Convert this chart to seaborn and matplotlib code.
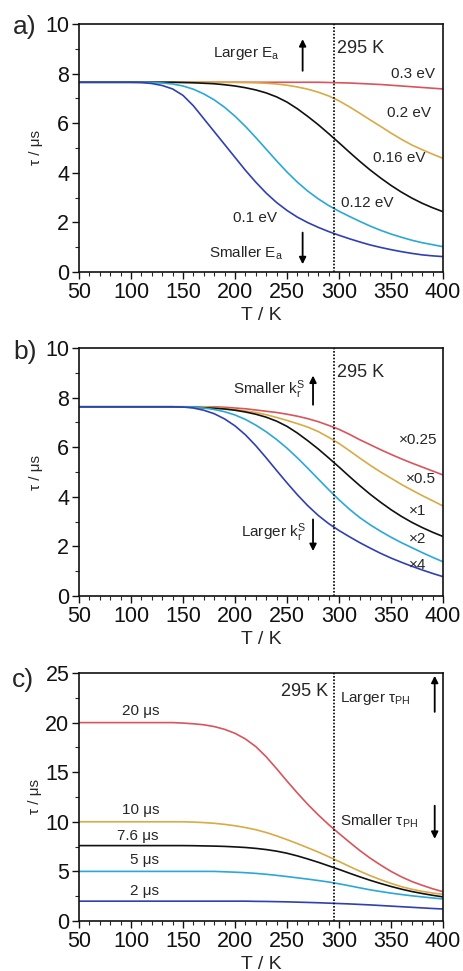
import matplotlib
matplotlib.use("Agg")
import matplotlib.pyplot as plt
import pandas as pd
import seaborn as sns
from matplotlib.ticker import MultipleLocator

# temperature grid (K) shared by all curves
T = [50, 100, 110, 120, 130, 140, 150, 160, 170, 180, 190, 200, 210, 220, 230, 240,
     250, 260, 270, 280, 290, 300, 310, 320, 330, 340, 350, 360, 370, 380, 390, 400]

# a) activation energy
ea_030 = [7.65, 7.65, 7.65, 7.65, 7.65, 7.65, 7.65, 7.65, 7.65, 7.65, 7.65, 7.65, 7.65, 7.65, 7.65, 7.65,
          7.65, 7.65, 7.65, 7.65, 7.64, 7.63, 7.62, 7.60, 7.58, 7.56, 7.53, 7.50, 7.47, 7.44, 7.41, 7.38]
ea_020 = [7.65, 7.65, 7.65, 7.65, 7.65, 7.65, 7.65, 7.65, 7.65, 7.65, 7.65, 7.65, 7.64, 7.63, 7.61, 7.58,
          7.53, 7.46, 7.37, 7.25, 7.10, 6.90, 6.66, 6.40, 6.13, 5.87, 5.60, 5.35, 5.12, 4.93, 4.75, 4.58]
ea_016 = [7.65, 7.65, 7.65, 7.65, 7.65, 7.65, 7.64, 7.63, 7.61, 7.59, 7.55, 7.50, 7.43, 7.34, 7.22, 7.06,
          6.85, 6.58, 6.27, 5.94, 5.58, 5.21, 4.83, 4.46, 4.11, 3.79, 3.49, 3.22, 2.98, 2.77, 2.59, 2.43]
ea_012 = [7.65, 7.65, 7.65, 7.64, 7.62, 7.58, 7.50, 7.37, 7.18, 6.94, 6.64, 6.28, 5.87, 5.42, 4.95, 4.48,
          4.03, 3.62, 3.26, 2.95, 2.68, 2.45, 2.24, 2.04, 1.85, 1.68, 1.53, 1.40, 1.28, 1.18, 1.10, 1.02]
ea_010 = [7.65, 7.65, 7.64, 7.60, 7.52, 7.38, 7.12, 6.70, 6.18, 5.66, 5.14, 4.62, 4.10, 3.62, 3.18, 2.80,
          2.48, 2.21, 1.99, 1.80, 1.63, 1.48, 1.34, 1.21, 1.09, 0.99, 0.90, 0.82, 0.75, 0.69, 0.65, 0.62]
ea_names = ["0.3 eV", "0.2 eV", "0.16 eV", "0.12 eV", "0.1 eV"]

# b) singlet radiative rate
kr_x025 = [7.63, 7.63, 7.63, 7.63, 7.63, 7.63, 7.63, 7.63, 7.63, 7.63, 7.61, 7.58, 7.55, 7.50, 7.45, 7.40,
           7.33, 7.25, 7.15, 7.03, 6.88, 6.72, 6.52, 6.30, 6.10, 5.90, 5.71, 5.53, 5.36, 5.20, 5.04, 4.88]
kr_x05 = [7.63, 7.63, 7.63, 7.63, 7.63, 7.63, 7.63, 7.63, 7.63, 7.60, 7.56, 7.52, 7.46, 7.40, 7.31, 7.20,
          7.08, 6.95, 6.81, 6.63, 6.40, 6.15, 5.86, 5.56, 5.27, 5.00, 4.75, 4.50, 4.27, 4.05, 3.84, 3.63]
kr_x1 = [7.63, 7.63, 7.63, 7.63, 7.63, 7.63, 7.62, 7.61, 7.59, 7.57, 7.54, 7.49, 7.42, 7.33, 7.21, 7.05,
         6.84, 6.57, 6.26, 5.93, 5.57, 5.20, 4.82, 4.45, 4.10, 3.78, 3.48, 3.21, 2.97, 2.76, 2.57, 2.40]
kr_x2 = [7.63, 7.63, 7.63, 7.63, 7.63, 7.63, 7.63, 7.62, 7.58, 7.52, 7.43, 7.30, 7.12, 6.89, 6.62, 6.31,
         5.96, 5.57, 5.15, 4.72, 4.29, 3.88, 3.50, 3.16, 2.87, 2.61, 2.37, 2.15, 1.95, 1.75, 1.56, 1.38]
kr_x4 = [7.63, 7.63, 7.63, 7.63, 7.63, 7.63, 7.62, 7.58, 7.49, 7.35, 7.14, 6.86, 6.50, 6.06, 5.57, 5.06,
         4.56, 4.08, 3.64, 3.25, 2.92, 2.64, 2.39, 2.15, 1.93, 1.72, 1.53, 1.36, 1.20, 1.05, 0.91, 0.78]
kr_names = ["×0.25", "×0.5", "×1", "×2", "×4"]

# c) phosphorescence lifetime
ph_20 = [20.0, 20.0, 20.0, 20.0, 20.0, 20.0, 19.95, 19.88, 19.78, 19.6, 19.32, 18.92, 18.35, 17.58, 16.55, 15.35,
         14.1, 12.9, 11.75, 10.7, 9.72, 8.82, 7.95, 7.1, 6.33, 5.64, 5.0, 4.45, 3.98, 3.6, 3.25, 2.95]
ph_10 = [10.0, 10.0, 10.0, 10.0, 10.0, 10.0, 10.0, 9.97, 9.92, 9.85, 9.74, 9.6, 9.42, 9.2, 8.92, 8.58,
         8.2, 7.8, 7.38, 6.95, 6.48, 6.0, 5.5, 5.02, 4.57, 4.16, 3.79, 3.46, 3.2, 2.99, 2.82, 2.69]
ph_76 = [7.6, 7.6, 7.6, 7.6, 7.6, 7.6, 7.6, 7.59, 7.57, 7.55, 7.52, 7.47, 7.41, 7.32, 7.2, 7.04,
         6.83, 6.56, 6.25, 5.92, 5.56, 5.2, 4.82, 4.45, 4.1, 3.78, 3.48, 3.21, 2.97, 2.77, 2.59, 2.43]
ph_5 = [5.0, 5.0, 5.0, 5.0, 5.0, 5.0, 5.0, 5.0, 5.0, 5.0, 4.96, 4.92, 4.87, 4.8, 4.71, 4.6,
        4.48, 4.35, 4.22, 4.08, 3.93, 3.75, 3.55, 3.34, 3.14, 2.97, 2.81, 2.67, 2.54, 2.43, 2.32, 2.22]
ph_2 = [2.0, 2.0, 2.0, 2.0, 2.0, 2.0, 2.0, 2.0, 2.0, 2.0, 2.0, 2.0, 2.0, 1.98, 1.97, 1.95,
        1.93, 1.9, 1.87, 1.84, 1.8, 1.76, 1.72, 1.67, 1.62, 1.56, 1.5, 1.44, 1.38, 1.32, 1.26, 1.21]
ph_names = ["20 μs", "10 μs", "7.6 μs", "5 μs", "2 μs"]

colors = ["#d9545c", "#d9aa45", "#111111", "#2aa8d8", "#3040b0"]

sns.set_style("ticks")
plt.rcParams["font.family"] = ["Liberation Sans", "DejaVu Sans"]
plt.rcParams["mathtext.fontset"] = "custom"
plt.rcParams["mathtext.rm"] = "Liberation Sans"
plt.rcParams["mathtext.it"] = "Liberation Sans:italic"


def long_df(names, series):
    rows = []
    for name, vals in zip(names, series):
        for t, v in zip(T, vals):
            rows.append({"T": t, "tau": v, "series": name})
    return pd.DataFrame(rows)


def style_axes(ax, ymax, ystep, yminor):
    ax.set_xlim(50, 400)
    ax.set_ylim(0, ymax)
    ax.set_xticks(range(50, 401, 50))
    ax.xaxis.set_minor_locator(MultipleLocator(10))
    ax.yaxis.set_major_locator(MultipleLocator(ystep))
    ax.yaxis.set_minor_locator(MultipleLocator(yminor))
    ax.tick_params(which="major", length=5, width=1, labelsize=15.5, pad=2,
                   direction="out", top=False, right=False, colors="#111111")
    ax.tick_params(which="minor", length=3, width=0.8, direction="out",
                   top=False, right=False)
    ax.set_xlabel("T / K", fontsize=14, labelpad=3)
    ax.set_ylabel("τ / μs", fontsize=11, labelpad=2)
    for sp in ax.spines.values():
        sp.set_visible(True)
        sp.set_linewidth(1.2)
        sp.set_color("#111111")
    ax.axvline(295, color="k", ls=(0, (1, 1)), lw=1.2)


def arrow(ax, x, y0, y1):
    ax.annotate("", xy=(x, y1), xytext=(x, y0),
                arrowprops=dict(arrowstyle="-|>", color="k", lw=1.3, mutation_scale=10))


fig = plt.figure(figsize=(4.64, 9.71), dpi=100)
ax_a = fig.add_axes([0.1703, 0.7199, 0.7845, 0.2554])
ax_b = fig.add_axes([0.1703, 0.3862, 0.7845, 0.2554])
ax_c = fig.add_axes([0.1703, 0.0515, 0.7845, 0.2554])

# a)
df_a = long_df(ea_names, [ea_030, ea_020, ea_016, ea_012, ea_010])
sns.lineplot(data=df_a, x="T", y="tau", hue="series", hue_order=ea_names,
             palette=dict(zip(ea_names, colors)), legend=False, lw=1.2, ax=ax_a)
style_axes(ax_a, 10, 2, 1)
ax_a.text(371, 8.0, "0.3 eV", fontsize=11, ha="center", va="center")
ax_a.text(367, 6.4, "0.2 eV", fontsize=11, ha="center", va="center")
ax_a.text(358, 4.6, "0.16 eV", fontsize=11, ha="center", va="center")
ax_a.text(327, 2.8, "0.12 eV", fontsize=11, ha="center", va="center")
ax_a.text(219, 2.17, "0.1 eV", fontsize=11, ha="center", va="center")
ax_a.text(211, 8.8, r"Larger E$_{\mathrm{a}}$", fontsize=11, ha="center", va="center")
ax_a.text(211, 0.75, r"Smaller E$_{\mathrm{a}}$", fontsize=11, ha="center", va="center")
arrow(ax_a, 265, 8.0, 9.5)
arrow(ax_a, 265, 1.7, 0.2)
ax_a.text(298, 9.0, "295 K", fontsize=13, ha="left", va="center")

# b)
df_b = long_df(kr_names, [kr_x025, kr_x05, kr_x1, kr_x2, kr_x4])
sns.lineplot(data=df_b, x="T", y="tau", hue="series", hue_order=kr_names,
             palette=dict(zip(kr_names, colors)), legend=False, lw=1.2, ax=ax_b)
style_axes(ax_b, 10, 2, 1)
ax_b.text(376, 6.29, "×0.25", fontsize=11, ha="center", va="center")
ax_b.text(379, 4.73, "×0.5", fontsize=11, ha="center", va="center")
ax_b.text(376, 3.43, "×1", fontsize=11, ha="center", va="center")
ax_b.text(376, 2.29, "×2", fontsize=11, ha="center", va="center")
ax_b.text(376, 1.25, "×4", fontsize=11, ha="center", va="center")
ax_b.text(268, 8.3, r"Smaller k$_{\mathrm{r}}^{\mathrm{S}}$", fontsize=11, ha="right", va="center")
ax_b.text(268, 2.55, r"Larger k$_{\mathrm{r}}^{\mathrm{S}}$", fontsize=11, ha="right", va="center")
arrow(ax_b, 275, 7.6, 9.0)
arrow(ax_b, 275, 3.2, 1.7)
ax_b.text(298, 9.0, "295 K", fontsize=13, ha="left", va="center")

# c)
df_c = long_df(ph_names, [ph_20, ph_10, ph_76, ph_5, ph_2])
sns.lineplot(data=df_c, x="T", y="tau", hue="series", hue_order=ph_names,
             palette=dict(zip(ph_names, colors)), legend=False, lw=1.2, ax=ax_c)
style_axes(ax_c, 25, 5, 2.5)
ax_c.text(109, 21.2, "20 μs", fontsize=11, ha="center", va="center")
ax_c.text(109, 11.2, "10 μs", fontsize=11, ha="center", va="center")
ax_c.text(106, 8.6, "7.6 μs", fontsize=11, ha="center", va="center")
ax_c.text(113, 6.1, "5 μs", fontsize=11, ha="center", va="center")
ax_c.text(113, 3.05, "2 μs", fontsize=11, ha="center", va="center")
ax_c.text(290, 23.1, "295 K", fontsize=13, ha="right", va="center")
ax_c.text(301, 22.4, r"Larger τ$_{\mathrm{PH}}$", fontsize=11, ha="left", va="center")
ax_c.text(301, 10.0, r"Smaller τ$_{\mathrm{PH}}$", fontsize=11, ha="left", va="center")
arrow(ax_c, 392, 20.8, 25.0)
arrow(ax_c, 392, 11.9, 8.0)

fig.text(0.054, 0.972, "a)", fontsize=19, ha="center", va="center")
fig.text(0.054, 0.6375, "b)", fontsize=19, ha="center", va="center")
fig.text(0.050, 0.2997, "c)", fontsize=19, ha="center", va="center")

fig.savefig("out.png", dpi=100)
